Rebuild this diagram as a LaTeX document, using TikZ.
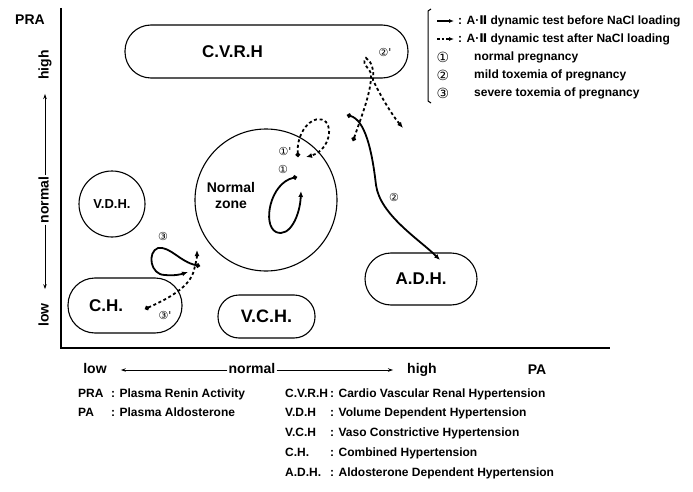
\documentclass[tikz,border=0pt]{standalone}
\usepackage{fontspec}
\setmainfont{Liberation Sans}
\newfontfamily\symfont{DejaVu Sans}
\usepackage{tikz}
\usetikzlibrary{arrows.meta,positioning,calc}
\tikzset{>=Latex}
\newcommand\fsz[1]{\fontsize{#1}{#1}\selectfont}
\newcommand\AII{A·{\symfont\bfseries Ⅱ}}
\tikzset{
  zone/.style={draw,line width=1.1pt,inner sep=0pt},
  lbl/.style={font=\bfseries\fsz{#1},inner sep=0pt},
  keytxt/.style={font=\bfseries\fsz{12},inner sep=0pt,anchor=base west},
  tag/.style={font=\symfont\fsz{11},inner sep=0pt},
  axlab/.style={font=\bfseries\fsz{14},inner sep=1pt,text height=10pt,text depth=3pt},
  axarr/.style={line width=0.9pt,-{Stealth[length=5pt,width=3.5pt]},shorten >=13pt},
  traj/.style={line width=1.8pt,{Circle[length=4.5pt]}-{Latex[length=6pt,width=5pt]}},
  trajd/.style={traj,dash pattern=on 3pt off 2.6pt}
}
\begin{document}
\begin{tikzpicture}[x=1pt,y=-1pt]
  \useasboundingbox (0,0) rectangle (693,492);
  \coordinate (O) at (61,348);
  \coordinate (ytop) at (61,8);
  \coordinate (xend) at (610,348);
  \draw[line width=1.1pt] (ytop) -- (O) -- (xend);
  \node[lbl=14] (pra) at (30,20) {PRA};
  \node[lbl=14] (pa) at (537,370) {PA};
  \node[axlab] (lowx) at (95,370) {low};
  \node[axlab] (normx) at (252,370) {normal};
  \node[axlab] (highx) at (422,370) {high};
  \draw[axarr] (normx) -- (lowx);
  \draw[axarr] (normx) -- (highx);
  \node[axlab,rotate=90] (lowy) at (45,315) {low};
  \node[axlab,rotate=90] (normy) at (45,200) {normal};
  \node[axlab,rotate=90] (highy) at (45,65) {high};
  \draw[axarr] (normy) -- (lowy);
  \draw[axarr] (normy) -- (highy);

  \node[zone,minimum width=283pt,minimum height=53pt,rounded corners=26pt] (cvrh) at (266.5,51.5) {};
  \node[lbl=17] (cvrhtxt) at ([xshift=-34pt]cvrh.center) {C.V.R.H};
  \node[zone,circle,minimum size=66pt] (vdh) at (112,204) {};
  \node[lbl=13] (vdhtxt) at (vdh.center) {V.D.H.};
  \node[zone,circle,minimum size=142pt] (nz) at (266,200) {};
  \node[lbl=14,align=center] (nztxt) at (231,195) {Normal\\[2pt]zone};
  \node[zone,minimum width=114pt,minimum height=55pt,rounded corners=27pt] (ch) at (125,305.5) {};
  \node[lbl=17] (chtxt) at ([xshift=-19pt]ch.center) {C.H.};
  \node[zone,minimum width=97pt,minimum height=43pt,rounded corners=21pt] (vch) at (266.5,316.5) {};
  \node[lbl=18] (vchtxt) at (vch.center) {V.C.H.};
  \node[zone,minimum width=112pt,minimum height=52pt,rounded corners=26pt] (adh) at (421,279) {};
  \node[lbl=17] (adhtxt) at (adh.center) {A.D.H.};

  \coordinate (s1) at (297,177);
  \coordinate (e1) at (301,191);
  \draw[traj] (s1) .. controls (270,183) and (262,225) .. (276,232) .. controls (290,238) and (300,215) .. (e1);
  \coordinate (s1d) at (298,157);
  \coordinate (e1d) at (306,157);
  \draw[trajd] (s1d) .. controls (296,130) and (315,112) .. (326,122) .. controls (334,132) and (326,152) .. (e1d);
  \node[tag] (t1) at (283,169) {①};
  \node[tag] (t1d) at (285,151) {①'};

  \coordinate (s2) at (347,115);
  \coordinate (e2) at (440,260);
  \draw[traj] (s2) .. controls (365,120) and (372,150) .. (376,185) .. controls (380,215) and (420,240) .. (e2);
  \coordinate (s2d) at (353,141);
  \coordinate (e2d) at (403,128);
  \draw[trajd] (s2d) .. controls (362,115) and (370,95) .. (371,78) .. controls (373,68) and (360,66) .. (366,58) .. controls (372,62) and (374,70) .. (373,80) .. controls (380,95) and (392,115) .. (e2d);
  \node[tag] (t2) at (394,197) {②};
  \node[tag] (t2d) at (385,52) {②'};

  \coordinate (s3) at (200,266);
  \coordinate (e3) at (188,272);
  \draw[traj] (s3) .. controls (180,262) and (170,246) .. (158,248) .. controls (147,252) and (150,275) .. (165,275) .. controls (175,276) and (182,274) .. (e3);
  \coordinate (s3d) at (145,309);
  \coordinate (e3d) at (197,250);
  \draw[trajd] (s3d) .. controls (165,300) and (190,288) .. (194,270) .. controls (196,262) and (197,258) .. (e3d);
  \node[tag] (t3) at (163,236) {③};
  \node[tag] (t3d) at (165,315) {③'};

  \draw[line width=1pt] (431,9) -- (428,11) -- (428,101) -- (431,103);
  \coordinate (la1) at (437,21);
  \coordinate (lb1) at (454,21);
  \coordinate (la2) at (437,39);
  \coordinate (lb2) at (454,39);
  \draw[line width=1.2pt,-{Latex[length=5pt,width=4pt]}] (la1) -- (lb1);
  \draw[line width=1.2pt,dash pattern=on 2.5pt off 2pt,-{Latex[length=5pt,width=4pt]}] (la2) -- (lb2);
  \node[keytxt] (leg1) at (458,25) {: \AII\ dynamic test before NaCl loading};
  \node[keytxt] (leg2) at (458,43) {: \AII\ dynamic test after NaCl loading};
  \node[tag,font=\symfont\fsz{14}] (n1) at (443,57) {①};
  \node[tag,font=\symfont\fsz{14}] (n2) at (443,75) {②};
  \node[tag,font=\symfont\fsz{14}] (n3) at (443,93) {③};
  \node[keytxt] (leg3) at (474,61) {normal pregnancy};
  \node[keytxt] (leg4) at (474,79) {mild toxemia of pregnancy};
  \node[keytxt] (leg5) at (474,97) {severe toxemia of pregnancy};

  \node[keytxt] (kpra) at (78,397) {PRA};
  \node[keytxt] (dpra) at (111,397) {: Plasma Renin Activity};
  \node[keytxt] (kpa) at (78,416) {PA};
  \node[keytxt] (dpa) at (111,416) {: Plasma Aldosterone};
  \node[keytxt] (kcvrh) at (285,397) {C.V.R.H};
  \node[keytxt] (dcvrh) at (330,397) {: Cardio Vascular Renal Hypertension};
  \node[keytxt] (kvdh) at (285,416) {V.D.H};
  \node[keytxt] (dvdh) at (330,416) {: Volume Dependent Hypertension};
  \node[keytxt] (kvch) at (285,436) {V.C.H};
  \node[keytxt] (dvch) at (330,436) {: Vaso Constrictive Hypertension};
  \node[keytxt] (kch) at (285,456) {C.H.};
  \node[keytxt] (dch) at (330,456) {: Combined Hypertension};
  \node[keytxt] (kadh) at (285,476) {A.D.H.};
  \node[keytxt] (dadh) at (330,476) {: Aldosterone Dependent Hypertension};
\end{tikzpicture}
\end{document}
